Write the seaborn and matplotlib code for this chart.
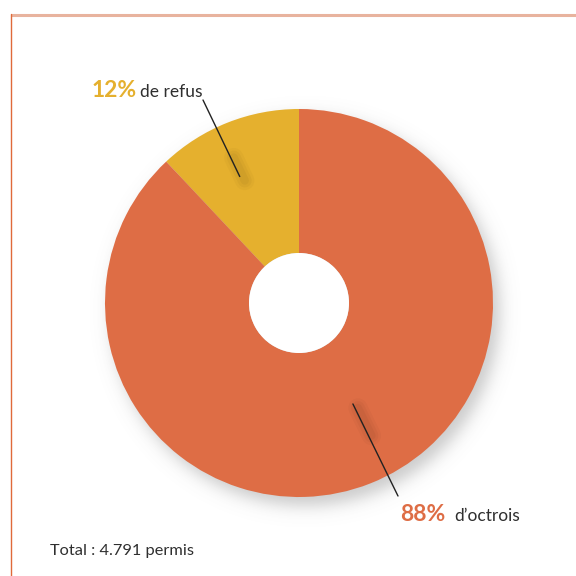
import numpy as np
import matplotlib
matplotlib.use("Agg")
import matplotlib.pyplot as plt
from matplotlib.patches import Circle
import seaborn as sns

# Share of building permits: refused vs granted
categories = ["de refus", "d\u2019octrois"]
shares = [12, 88]
pct_labels = ["12%", "88%"]
total_label = "Total\u202f: 4.791 permis"

colors = ["#E5B02E", "#DE6D45"]
text_dark = "#2f2f2f"

sns.set_theme(style="white")
plt.rcParams["font.family"] = ["Lato", "DejaVu Sans"]

W = H = 576
fig = plt.figure(figsize=(5.76, 5.76), dpi=100)
fig.patch.set_facecolor("white")
ax = fig.add_axes([0, 0, 1, 1])

cx, cy = 299, 576 - 303
R = 194
hole = 50

# soft drop shadow under the ring
yy, xx = np.mgrid[0:H, 0:W]
d = np.hypot(xx - (cx + 6), (576 - yy) - (cy - 8))
shadow_alpha = 0.32 * np.clip(1 / (1 + np.exp((d - R) / 5.0)), 0, 1)
shadow = np.zeros((H, W, 4))
shadow[..., :3] = 0.35
shadow[..., 3] = shadow_alpha
ax.imshow(shadow, extent=(0, W, 0, H), origin="upper", zorder=1, interpolation="bilinear")

wedges, _ = ax.pie(
    shares,
    colors=colors,
    startangle=90,
    counterclock=True,
    center=(cx, cy),
    radius=R,
    wedgeprops=dict(width=R - hole, linewidth=0),
    frame=False,
)
for w in wedges:
    w.set_zorder(2)
# clean white centre
ax.add_patch(Circle((cx, cy), hole, facecolor="white", edgecolor="none", zorder=2.5))

ax.set_xlim(0, W)
ax.set_ylim(0, H)
ax.set_aspect("equal")
ax.axis("off")

# frame lines
ax.plot([11, W], [576 - 14.5, 576 - 14.5], color="#E8B39E", lw=2.2, zorder=5,
        solid_capstyle="butt")
ax.plot([11, 11], [576 - 14, 0], color="#E06A3A", lw=1.0, zorder=5)

# leader lines (anchored on the wedges) and labels
leaders = [
    dict(frac=0.72, ang_off=3.5, end=(203, 100), pct_xy=(92, 97), word_x=140),
    dict(frac=0.59, ang_off=6.5, end=(398, 496), pct_xy=(400, 521), word_x=454),
]
for w, lab, pct, col, L in zip(wedges, categories, pct_labels, colors, leaders):
    mid = np.deg2rad((w.theta1 + w.theta2) / 2 + L["ang_off"])
    px = cx + L["frac"] * R * np.cos(mid)
    py = cy + L["frac"] * R * np.sin(mid)
    ex, ey = L["end"][0], 576 - L["end"][1]
    # faint blurred shadow of the leader line on the ring
    for lw_, a_ in [(14, 0.025), (10, 0.03), (6, 0.035)]:
        ax.plot([px + 5, px + 0.3 * (ex - px) + 5], [py - 4, py + 0.3 * (ey - py) - 4],
                color="black", lw=lw_, alpha=a_, zorder=3, solid_capstyle="round")
    ax.plot([px, ex], [py, ey], color="#222222", lw=1.0, zorder=4)
    ax.text(L["pct_xy"][0], 576 - L["pct_xy"][1], pct, color=col, fontsize=16.5,
            fontweight="bold", ha="left", va="baseline", zorder=6)
    ax.text(L["word_x"], 576 - L["pct_xy"][1], lab, color=text_dark, fontsize=12.5,
            ha="left", va="baseline", zorder=6)

ax.text(50, 576 - 555, total_label, color=text_dark, fontsize=11.8, ha="left",
        va="baseline", zorder=6)

fig.savefig("out.png", dpi=100, facecolor="white")
